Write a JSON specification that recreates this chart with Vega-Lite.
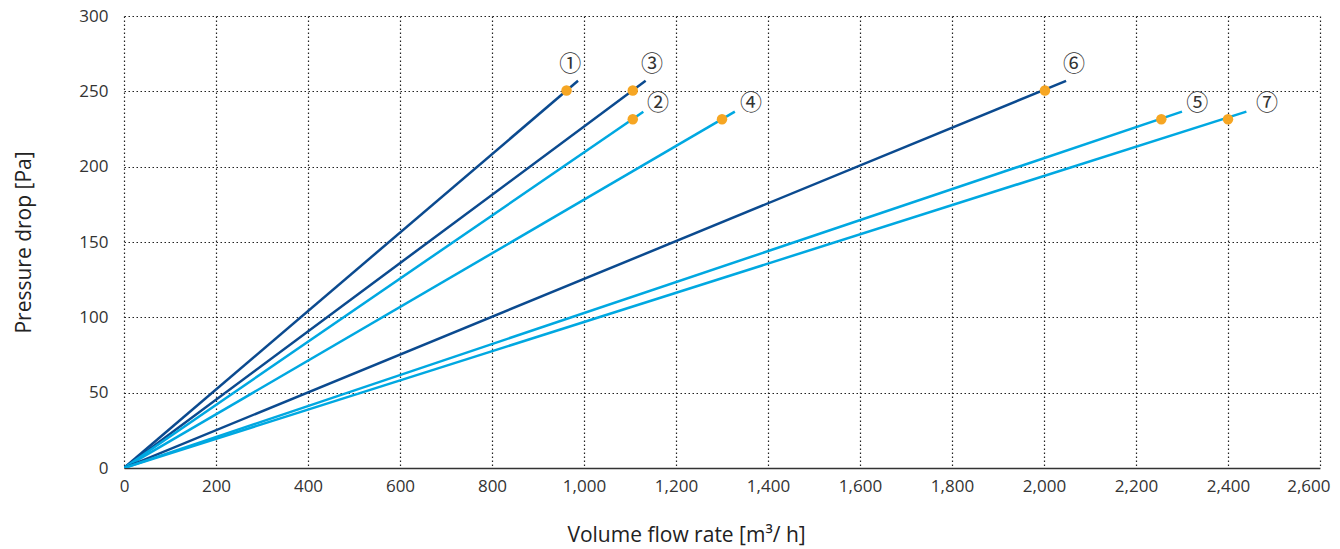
{
  "$schema": "https://vega.github.io/schema/vega-lite/v6.json",
  "width": 1196,
  "height": 452,
  "autosize": {"type": "none"},
  "padding": {"left": 124, "top": 16, "right": 20, "bottom": 81},
  "background": "white",
  "config": {
    "view": {"stroke": null},
    "font": "Open Sans",
    "axis": {"labelFont": "Open Sans", "titleFont": "Open Sans", "labelColor": "#333", "titleColor": "#222", "titleFontWeight": "normal"}
  },
  "datasets": {
    "lines": [
      {"s": "1", "tone": "dark", "x": 0, "y": 0}, {"s": "1", "tone": "dark", "x": 987, "y": 257},
      {"s": "3", "tone": "dark", "x": 0, "y": 0}, {"s": "3", "tone": "dark", "x": 1134, "y": 257},
      {"s": "2", "tone": "light", "x": 0, "y": 0}, {"s": "2", "tone": "light", "x": 1129, "y": 236.5},
      {"s": "4", "tone": "light", "x": 0, "y": 0}, {"s": "4", "tone": "light", "x": 1328, "y": 236.5},
      {"s": "6", "tone": "dark", "x": 0, "y": 0}, {"s": "6", "tone": "dark", "x": 2048, "y": 257},
      {"s": "5", "tone": "light", "x": 0, "y": 0}, {"s": "5", "tone": "light", "x": 2300, "y": 236.5},
      {"s": "7", "tone": "light", "x": 0, "y": 0}, {"s": "7", "tone": "light", "x": 2440, "y": 236.5}
    ],
    "points": [
      {"s": "1", "x": 962, "y": 250.5},
      {"s": "3", "x": 1106, "y": 250.5},
      {"s": "2", "x": 1106, "y": 231.5},
      {"s": "4", "x": 1300, "y": 231.5},
      {"s": "6", "x": 2002, "y": 250.5},
      {"s": "5", "x": 2255, "y": 231.5},
      {"s": "7", "x": 2400, "y": 231.5}
    ],
    "labels": [
      {"t": "①", "x": 970, "y": 268},
      {"t": "③", "x": 1148, "y": 268},
      {"t": "②", "x": 1161, "y": 242},
      {"t": "④", "x": 1363, "y": 242},
      {"t": "⑥", "x": 2065, "y": 268},
      {"t": "⑤", "x": 2333, "y": 242},
      {"t": "⑦", "x": 2485, "y": 242}
    ]
  },
  "layer": [
    {
      "data": {"name": "lines"},
      "mark": {"type": "line", "strokeWidth": 2.5, "clip": true},
      "encoding": {
        "x": {
          "field": "x", "type": "quantitative",
          "scale": {"domain": [0, 2600], "nice": false},
          "axis": {
            "values": [0, 200, 400, 600, 800, 1000, 1200, 1400, 1600, 1800, 2000, 2200, 2400, 2600],
            "format": ",d",
            "title": "Volume flow rate [m³/ h]",
            "titleFontSize": 21,
            "titleX": 562,
            "titlePadding": 30,
            "labelFontSize": 17,
            "labelPadding": 10,
            "labelFlush": false,
            "labelAlign": {"condition": {"test": "datum.value == 2600", "value": "right"}, "value": "center"},
            "labelOffset": {"condition": {"test": "datum.value == 2600", "value": 10}, "value": 0},
            "ticks": false,
            "domain": true,
            "domainColor": "#333",
            "domainWidth": 1.5,
            "grid": true,
            "gridColor": "#222",
            "gridDash": [1.5, 2.5],
            "gridWidth": 1.2
          }
        },
        "y": {
          "field": "y", "type": "quantitative",
          "scale": {"domain": [0, 300], "nice": false},
          "axis": {
            "values": [0, 50, 100, 150, 200, 250, 300],
            "title": "Pressure drop [Pa]",
            "titleFontSize": 21,
            "titlePadding": 44,
            "labelFontSize": 17,
            "labelPadding": 16,
            "ticks": false,
            "domain": false,
            "grid": true,
            "gridColor": "#222",
            "gridDash": [1.5, 2.5],
            "gridWidth": 1.2
          }
        },
        "detail": {"field": "s"},
        "color": {
          "field": "tone", "type": "nominal",
          "scale": {"domain": ["dark", "light"], "range": ["#0b4a8f", "#00a8e1"]},
          "legend": null
        }
      }
    },
    {
      "data": {"name": "points"},
      "mark": {"type": "circle", "size": 110, "color": "#f6a623", "opacity": 1},
      "encoding": {
        "x": {"field": "x", "type": "quantitative"},
        "y": {"field": "y", "type": "quantitative"}
      }
    },
    {
      "data": {"name": "labels"},
      "mark": {"type": "text", "font": "Noto Sans CJK JP", "fontSize": 22, "color": "#333", "align": "center", "baseline": "middle"},
      "encoding": {
        "x": {"field": "x", "type": "quantitative"},
        "y": {"field": "y", "type": "quantitative"},
        "text": {"field": "t"}
      }
    }
  ]
}
